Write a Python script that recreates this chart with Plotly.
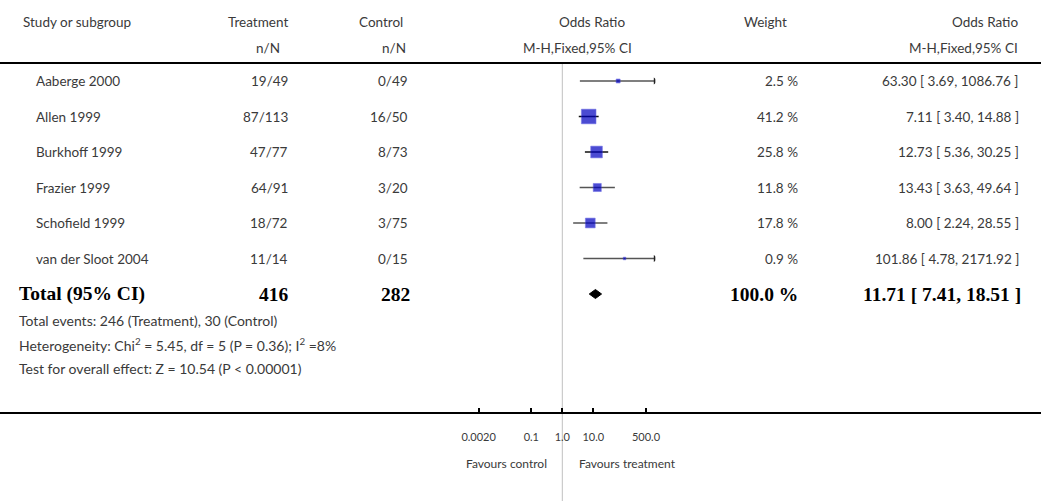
import math
import plotly.graph_objects as go

# ---------------- data ----------------
studies = ["Aaberge 2000", "Allen 1999", "Burkhoff 1999", "Frazier 1999",
           "Schofield 1999", "van der Sloot 2004"]
treat_n = [19, 87, 47, 64, 18, 11]
treat_N = [49, 113, 77, 91, 72, 14]
ctrl_n = [0, 16, 8, 3, 3, 0]
ctrl_N = [49, 50, 73, 20, 75, 15]
weights = [2.5, 41.2, 25.8, 11.8, 17.8, 0.9]
or_est = [63.30, 7.11, 12.73, 13.43, 8.00, 101.86]
or_lo = [3.69, 3.40, 5.36, 3.63, 2.24, 4.78]
or_hi = [1086.76, 14.88, 30.25, 49.64, 28.55, 2171.92]

total_weight = 100.0
total_est = 11.71
total_lo = 7.41
total_hi = 18.51

chi2 = 5.45
df_het = 5
p_het = 0.36
i2 = 8
z_val = 10.54

tick_vals = [0.002, 0.1, 1, 10, 500]
tick_text = ["0.0020", "0.1", "1.0", "10.0", "500.0"]
x_limits = [0.001, 1000]

# ---------------- layout constants ----------------
W, H = 1041, 501
FONT = "Lato"
SERIF = "Liberation Serif"
TXT = "#3a3a3a"
FS = 13.5
HEAD1_Y, HEAD2_Y, RULE_TOP = 22, 48, 63
ROW0, ROW_STEP = 81, 35.5
TOTAL_Y = ROW0 + ROW_STEP * len(studies)
FOOT_Y = [320, 344, 368]
RULE_BOT = 413
PX_CENTER, PX_DECADE = 562.3, 31.0

lo_lim, hi_lim = math.log10(x_limits[0]), math.log10(x_limits[1])
dom = [(PX_CENTER + lo_lim * PX_DECADE) / W, (PX_CENTER + hi_lim * PX_DECADE) / W]

row_y = [ROW0 + ROW_STEP * i for i in range(len(studies))]

fig = go.Figure()

# CI lines
for i in range(len(studies)):
    lo = max(or_lo[i], x_limits[0])
    hi = min(or_hi[i], x_limits[1])
    col = "#111111" if weights[i] > 20 else "#555555"
    fig.add_trace(go.Scatter(x=[lo, hi], y=[row_y[i], row_y[i]], mode="lines",
                             line=dict(color=col, width=1.3), hoverinfo="skip"))
    if or_hi[i] > x_limits[1]:
        fig.add_trace(go.Scatter(x=[hi], y=[row_y[i]], mode="markers",
                                 marker=dict(symbol="triangle-right", size=6, color="#222222",
                                             line=dict(width=0)),
                                 hoverinfo="skip"))

# squares
fig.add_trace(go.Scatter(
    x=or_est, y=row_y, mode="markers",
    marker=dict(symbol="square", size=[2.2 * math.sqrt(w) + 0.5 for w in weights],
                color="#0000c0", line=dict(color="rgba(60,60,220,0.7)", width=0.8)),
    hoverinfo="skip"))

# diamond for total
dh = 4.5
fig.add_trace(go.Scatter(
    x=[total_lo, total_est, total_hi, total_est, total_lo],
    y=[TOTAL_Y, TOTAL_Y - dh, TOTAL_Y, TOTAL_Y + dh, TOTAL_Y],
    mode="lines", fill="toself", fillcolor="black", line=dict(color="black", width=1),
    hoverinfo="skip"))

shapes = [
    dict(type="line", xref="paper", yref="y", x0=0, x1=1, y0=RULE_TOP, y1=RULE_TOP,
         line=dict(color="black", width=2)),
    dict(type="line", xref="paper", yref="y", x0=0, x1=1, y0=RULE_BOT, y1=RULE_BOT,
         line=dict(color="black", width=2)),
    dict(type="line", xref="x", yref="y", x0=1, x1=1, y0=RULE_TOP, y1=H,
         line=dict(color="#c0c0c0", width=1), layer="below"),
]

ann = []


def add_text(px, y, text, anchor="left", size=FS, family=FONT, color=TXT):
    ann.append(dict(x=px / W, xref="paper", y=y, yref="y", text=text, showarrow=False,
                    xanchor=anchor, yanchor="middle", borderpad=0,
                    font=dict(family=family, size=size, color=color)))


# headers
add_text(22, HEAD1_Y, "Study or subgroup")
add_text(289, HEAD1_Y, "Treatment", "right")
add_text(281, HEAD2_Y, "n/N", "right")
add_text(404, HEAD1_Y, "Control", "right")
add_text(407, HEAD2_Y, "n/N", "right")
add_text(592, HEAD1_Y, "Odds Ratio", "center")
add_text(577, HEAD2_Y, "M-H,Fixed,95% CI", "center")
add_text(765, HEAD1_Y, "Weight", "center")
add_text(1019, HEAD1_Y, "Odds Ratio", "right")
add_text(1019, HEAD2_Y, "M-H,Fixed,95% CI", "right")

# rows
for i, s in enumerate(studies):
    y = row_y[i]
    add_text(35, y, s)
    add_text(289, y, f"{treat_n[i]}/{treat_N[i]}", "right")
    add_text(409, y, f"{ctrl_n[i]}/{ctrl_N[i]}", "right")
    add_text(799, y, f"{weights[i]:.1f} %", "right")
    add_text(1020, y, f"{or_est[i]:.2f} [ {or_lo[i]:.2f}, {or_hi[i]:.2f} ]", "right")

# total row
BS = 19.5
add_text(18, TOTAL_Y, "<b>Total (95% CI)</b>", size=BS, family=SERIF, color="black")
add_text(290, TOTAL_Y, f"<b>{sum(treat_N)}</b>", "right", size=BS, family=SERIF, color="black")
add_text(411, TOTAL_Y, f"<b>{sum(ctrl_N)}</b>", "right", size=BS, family=SERIF, color="black")
add_text(799, TOTAL_Y, f"<b>{total_weight:.1f} %</b>", "right", size=BS, family=SERIF, color="black")
add_text(1022, TOTAL_Y, f"<b>{total_est:.2f} [ {total_lo:.2f}, {total_hi:.2f} ]</b>", "right",
         size=BS, family=SERIF, color="black")

# footnotes
FN = 14
add_text(18, FOOT_Y[0], f"Total events: {sum(treat_n)} (Treatment), {sum(ctrl_n)} (Control)", size=FN)
add_text(18, FOOT_Y[1], f"Heterogeneity: Chi<sup>2</sup> = {chi2:.2f}, df = {df_het} (P = {p_het:.2f}); "
                        f"I<sup>2</sup> ={i2}%", size=FN)
add_text(18, FOOT_Y[2], f"Test for overall effect: Z = {z_val:.2f} (P &lt; 0.00001)", size=FN)

# favours
add_text(548, 463, "Favours control", "right", size=12)
add_text(578, 463, "Favours treatment", "left", size=12)

fig.update_layout(
    width=W, height=H, autosize=False, margin=dict(l=0, r=0, t=0, b=0, pad=0),
    paper_bgcolor="white", plot_bgcolor="white", showlegend=False,
    shapes=shapes, annotations=ann,
    xaxis=dict(type="log", range=[lo_lim, hi_lim], domain=dom, anchor="free",
               position=1 - RULE_BOT / H, showline=False, showgrid=False, zeroline=False,
               ticks="inside", ticklen=5, tickwidth=1.5, tickcolor="black",
               tickvals=tick_vals, ticktext=tick_text, ticklabelstandoff=16,
               tickfont=dict(family=FONT, size=11, color=TXT), automargin=False),
    yaxis=dict(range=[H, 0], domain=[0, 1], visible=False, automargin=False),
)

post = ("document.body.style.margin='0';document.body.style.padding='0';"
        "document.body.style.overflow='hidden';"
        "Plotly.relayout('{plot_id}', {width: %d, height: %d});" % (W, H))
fig.write_html("out.html", config={"displayModeBar": False}, post_script=post)
